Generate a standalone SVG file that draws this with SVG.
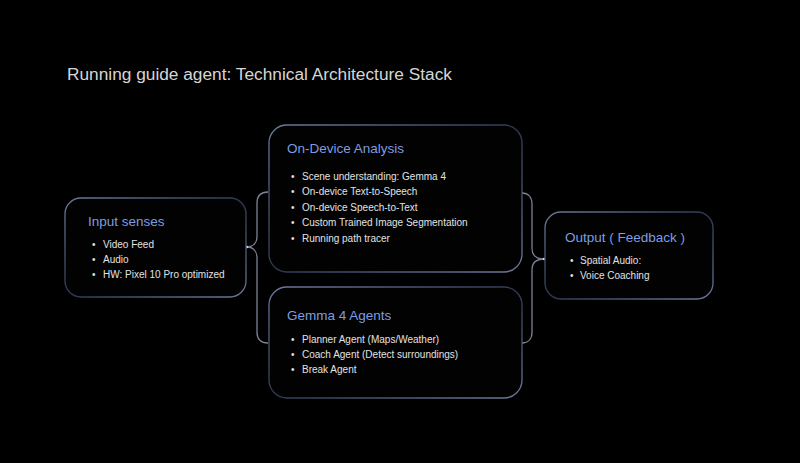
<svg xmlns="http://www.w3.org/2000/svg" width="800" height="463" viewBox="0 0 800 463">
  <defs>
    <linearGradient id="boxStroke" x1="0" y1="0" x2="1" y2="1">
      <stop offset="0" stop-color="#6c7a9c"/>
      <stop offset="0.5" stop-color="#2f3850"/>
      <stop offset="1" stop-color="#6c7a9c"/>
    </linearGradient>
  </defs>
  <style>
    .box { fill: #020203; stroke: url(#boxStroke); stroke-width: 1.3; }
    .title { font-family: "Liberation Sans", Arial, sans-serif; font-size: 17.3px; fill: #d6d6d6; }
    .head { font-family: "Liberation Sans", Arial, sans-serif; font-size: 13.5px; fill: #7e9de0; }
    .item { font-family: "Liberation Sans", Arial, sans-serif; font-size: 10px; fill: #e2e2e2; }
    .conn { fill: none; stroke: #7c8294; stroke-width: 1.3; }
    .tip { fill: #c8d4f0; }
  </style>
  <rect width="800" height="463" fill="#000"/>

  <text class="title" x="67" y="80">Running guide agent: Technical Architecture Stack</text>

  <g id="connectors">
    <path class="conn" d="M268,192 C261,192 257,196 257,203 L257,236 C257,243 253,247 247,247"/>
    <path class="conn" d="M247,247 C253,247 257,251 257,258 L257,332 C257,339 261,343 268,343"/>
    <path class="conn" d="M522,193 C528,193 532,197 532,204 L532,248 C532,255 536,259 544,259"/>
    <path class="conn" d="M544,259 C536,259 532,263 532,270 L532,332 C532,339 528,343 522,343"/>
    <circle class="tip" cx="247" cy="247" r="1.3"/>
    <circle class="tip" cx="544" cy="259" r="1.3"/>
  </g>

  <g id="input-senses">
    <rect class="box" x="65" y="198" width="181" height="99" rx="16"/>
    <text class="head" x="88" y="226">Input senses</text>
    <text class="item" x="92" y="248">•</text><text class="item" x="103" y="248">Video Feed</text>
    <text class="item" x="92" y="263">•</text><text class="item" x="103" y="263">Audio</text>
    <text class="item" x="92" y="277.5">•</text><text class="item" x="103" y="277.5">HW: Pixel 10 Pro optimized</text>
  </g>

  <g id="on-device-analysis">
    <rect class="box" x="269" y="125" width="253" height="147" rx="18"/>
    <text class="head" x="287" y="153">On-Device Analysis</text>
    <text class="item" x="291" y="179.5">•</text><text class="item" x="302" y="179.5">Scene understanding: Gemma 4</text>
    <text class="item" x="291" y="195">•</text><text class="item" x="302" y="195">On-device Text-to-Speech</text>
    <text class="item" x="291" y="210.5">•</text><text class="item" x="302" y="210.5">On-device Speech-to-Text</text>
    <text class="item" x="291" y="226">•</text><text class="item" x="302" y="226">Custom Trained Image Segmentation</text>
    <text class="item" x="291" y="241.5">•</text><text class="item" x="302" y="241.5">Running path tracer</text>
  </g>

  <g id="gemma-agents">
    <rect class="box" x="269" y="287" width="253" height="111" rx="18"/>
    <text class="head" x="287" y="320">Gemma 4 Agents</text>
    <text class="item" x="291" y="343">•</text><text class="item" x="302" y="343">Planner Agent (Maps/Weather)</text>
    <text class="item" x="291" y="357.5">•</text><text class="item" x="302" y="357.5">Coach Agent (Detect surroundings)</text>
    <text class="item" x="291" y="372.5">•</text><text class="item" x="302" y="372.5">Break Agent</text>
  </g>

  <g id="output-feedback">
    <rect class="box" x="545" y="212" width="168" height="87" rx="16"/>
    <text class="head" x="565" y="242">Output ( Feedback )</text>
    <text class="item" x="570" y="263.5">•</text><text class="item" x="580" y="263.5">Spatial Audio:</text>
    <text class="item" x="570" y="279">•</text><text class="item" x="580" y="279">Voice Coaching</text>
  </g>
</svg>
